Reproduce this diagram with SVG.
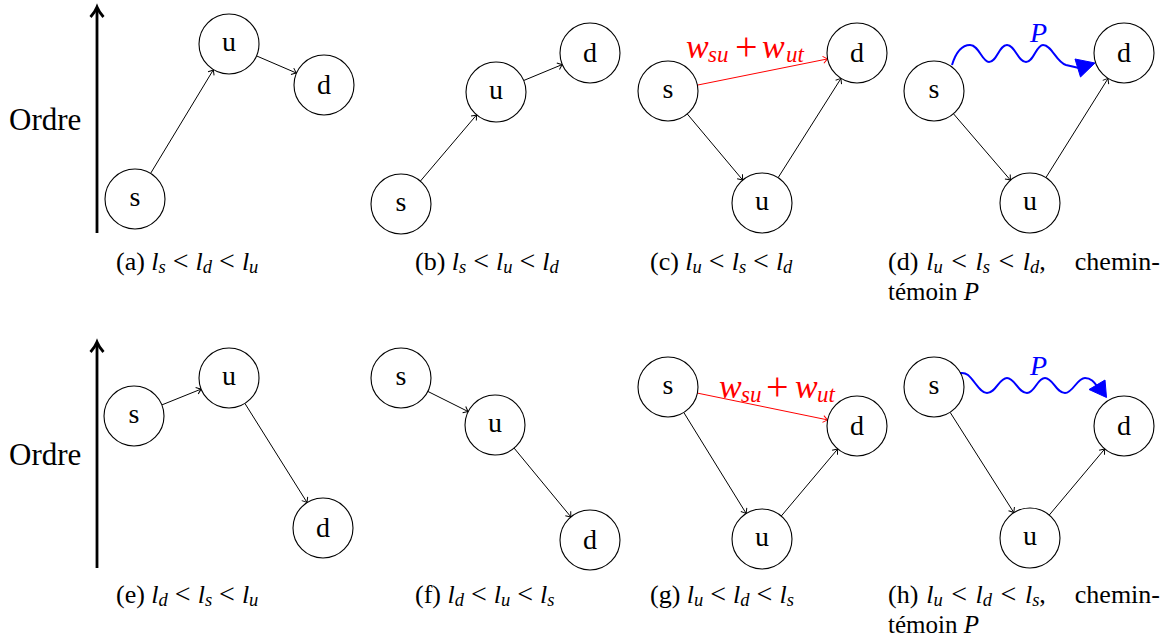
<svg xmlns="http://www.w3.org/2000/svg" width="1167" height="639" viewBox="0 0 1167 639">
<defs>
<style>
text{font-family:"Liberation Serif","Times New Roman",serif;fill:#000}
.node circle{fill:#fff;stroke:#000;stroke-width:1.1}
.lbl{font-size:28px;text-anchor:middle}
.edge{stroke:#000;stroke-width:1;fill:none;marker-end:url(#arr)}
.red{stroke:#f00;marker-end:url(#arrR)}
.wave{stroke:#00f;stroke-width:2;fill:none}
.head{fill:#00f;stroke:#00f;stroke-width:1;stroke-linejoin:miter}
.axis{stroke:#000;stroke-width:2.8;fill:none}
.ordre{font-size:31px}
.cap{font-size:26px}
.cap2{font-size:25px}
.m{font-style:italic}
.sb{font-style:italic;font-size:18.5px}
.lt{font-size:28px}
.rl{font-size:32px;fill:#f00}
.rl .m{font-size:34px}
.pls{font-size:40px}
.rs{font-style:italic;font-size:23px}
.pl{font-size:28px;font-style:italic;fill:#00f}
</style>
<marker id="arr" viewBox="-6 -5 8 10" markerWidth="8" markerHeight="10" refX="0" refY="0" orient="auto" markerUnits="userSpaceOnUse"><path d="M-4.5,-3.5 Q-1.5,-1 0,0 Q-1.5,1 -4.5,3.5" fill="none" stroke="#000" stroke-width="1"/></marker>
<marker id="arrR" viewBox="-6 -5 8 10" markerWidth="8" markerHeight="10" refX="0" refY="0" orient="auto" markerUnits="userSpaceOnUse"><path d="M-4.5,-3.5 Q-1.5,-1 0,0 Q-1.5,1 -4.5,3.5" fill="none" stroke="#f00" stroke-width="1"/></marker>
</defs>

<g id="axis-top">
<path class="axis" d="M97,233 L97,8"/>
<path class="axis" d="M90.5,17 Q95,12 97,7 Q99,12 103.5,17" stroke-width="2.2"/>
<text class="ordre" x="9" y="130">Ordre</text>
</g>
<g id="axis-bottom">
<path class="axis" d="M97,568 L97,343"/>
<path class="axis" d="M90.5,352 Q95,347 97,342 Q99,347 103.5,352" stroke-width="2.2"/>
<text class="ordre" x="9" y="465">Ordre</text>
</g>

<g id="connectors">
<line class="edge" x1="150.6" y1="173.4" x2="213.4" y2="69.7"/>
<line class="edge" x1="256.5" y1="55.9" x2="296.5" y2="73.1"/>
<line class="edge" x1="420.4" y1="181.1" x2="476.6" y2="114.9"/>
<line class="edge" x1="523.7" y1="80.5" x2="562.3" y2="64.5"/>
<line class="edge" x1="687.3" y1="114" x2="742.7" y2="180"/>
<line class="edge" x1="778.1" y1="177.7" x2="841" y2="78.4"/>
<line class="edge red" x1="697.4" y1="85.1" x2="827.6" y2="58.9"/>
<line class="edge" x1="953.5" y1="113.8" x2="1010.5" y2="180.2"/>
<line class="edge" x1="1045.9" y1="177.6" x2="1108.1" y2="78.4"/>
<path class="wave" d="M952,65 C956,52 962,45 970,45 C979,45 982,62 989,62 C997,62 999,45 1007,45 C1015,45 1018,62 1026,62 C1034,62 1036,45 1043,45 C1052,45 1056,62 1066,65 L1079,68"/>
<polygon class="head" points="1075,59 1095,63 1080.5,77"/>
<line class="edge" x1="161.9" y1="404.9" x2="201.1" y2="389.1"/>
<line class="edge" x1="244.9" y1="403.4" x2="307.1" y2="502.6"/>
<line class="edge" x1="427.8" y1="391.4" x2="468.2" y2="411.6"/>
<line class="edge" x1="514.1" y1="448.1" x2="570.9" y2="516.9"/>
<line class="edge" x1="683.8" y1="412.5" x2="746.2" y2="513.5"/>
<line class="edge" x1="781.3" y1="516" x2="837.7" y2="449"/>
<line class="edge red" x1="697.4" y1="393.1" x2="827.6" y2="419.9"/>
<line class="edge" x1="950.1" y1="412.3" x2="1013.9" y2="512.7"/>
<line class="edge" x1="1049.3" y1="515" x2="1104.7" y2="449"/>
<path class="wave" d="M953,377 C958,372 964,372 968,375 C975,381 980,393 987,393 C996,393 999,378 1007,378 C1015,378 1018,393 1027,393 C1035,393 1037,378 1045,378 C1053,378 1056,393 1065,393 C1073,393 1077,378 1085,378 C1091,378 1094,382 1097,386"/>
<polygon class="head" points="1089,389.5 1105,380 1106.5,397.5"/>
</g>

<text class="rl" y="58"><tspan class="m" x="686">w</tspan><tspan class="rs" x="708" y="62">su</tspan><tspan class="pls" x="735" y="60">+</tspan><tspan class="m" x="762" y="58">w</tspan><tspan class="rs" x="786" y="62">ut</tspan></text>
<text class="rl" y="398"><tspan class="m" x="719">w</tspan><tspan class="rs" x="741" y="402">su</tspan><tspan class="pls" x="766" y="400">+</tspan><tspan class="m" x="795" y="398">w</tspan><tspan class="rs" x="817" y="402">ut</tspan></text>
<text class="pl" x="1030" y="42">P</text>
<text class="pl" x="1030" y="375">P</text>

<g id="a-s" class="node"><circle cx="135" cy="199" r="30"/><text class="lbl" x="135" y="206">s</text></g>
<g id="a-u" class="node"><circle cx="229" cy="44" r="30"/><text class="lbl" x="229" y="51">u</text></g>
<g id="a-d" class="node"><circle cx="324" cy="85" r="30"/><text class="lbl" x="324" y="94">d</text></g>
<g id="b-s" class="node"><circle cx="401" cy="204" r="30"/><text class="lbl" x="401" y="211">s</text></g>
<g id="b-u" class="node"><circle cx="496" cy="92" r="30"/><text class="lbl" x="496" y="99">u</text></g>
<g id="b-d" class="node"><circle cx="590" cy="53" r="30"/><text class="lbl" x="590" y="62">d</text></g>
<g id="c-s" class="node"><circle cx="668" cy="91" r="30"/><text class="lbl" x="668" y="98">s</text></g>
<g id="c-d" class="node"><circle cx="857" cy="53" r="30"/><text class="lbl" x="857" y="62">d</text></g>
<g id="c-u" class="node"><circle cx="762" cy="203" r="30"/><text class="lbl" x="762" y="210">u</text></g>
<g id="d-s" class="node"><circle cx="934" cy="91" r="30"/><text class="lbl" x="934" y="98">s</text></g>
<g id="d-d" class="node"><circle cx="1124" cy="53" r="30"/><text class="lbl" x="1124" y="62">d</text></g>
<g id="d-u" class="node"><circle cx="1030" cy="203" r="30"/><text class="lbl" x="1030" y="210">u</text></g>
<g id="e-s" class="node"><circle cx="134" cy="416" r="30"/><text class="lbl" x="134" y="423">s</text></g>
<g id="e-u" class="node"><circle cx="229" cy="378" r="30"/><text class="lbl" x="229" y="385">u</text></g>
<g id="e-d" class="node"><circle cx="323" cy="528" r="30"/><text class="lbl" x="323" y="537">d</text></g>
<g id="f-s" class="node"><circle cx="401" cy="378" r="30"/><text class="lbl" x="401" y="385">s</text></g>
<g id="f-u" class="node"><circle cx="495" cy="425" r="30"/><text class="lbl" x="495" y="432">u</text></g>
<g id="f-d" class="node"><circle cx="590" cy="540" r="30"/><text class="lbl" x="590" y="549">d</text></g>
<g id="g-s" class="node"><circle cx="668" cy="387" r="30"/><text class="lbl" x="668" y="394">s</text></g>
<g id="g-d" class="node"><circle cx="857" cy="426" r="30"/><text class="lbl" x="857" y="435">d</text></g>
<g id="g-u" class="node"><circle cx="762" cy="539" r="30"/><text class="lbl" x="762" y="546">u</text></g>
<g id="h-s" class="node"><circle cx="934" cy="387" r="30"/><text class="lbl" x="934" y="394">s</text></g>
<g id="h-d" class="node"><circle cx="1124" cy="426" r="30"/><text class="lbl" x="1124" y="435">d</text></g>
<g id="h-u" class="node"><circle cx="1030" cy="538" r="30"/><text class="lbl" x="1030" y="545">u</text></g>

<g id="captions">
<text class="cap" x="116" y="270">(a) <tspan class="m">l</tspan><tspan class="sb" dy="3">s</tspan><tspan class="lt" dy="-3"> &lt; </tspan><tspan class="m">l</tspan><tspan class="sb" dy="3">d</tspan><tspan class="lt" dy="-3"> &lt; </tspan><tspan class="m">l</tspan><tspan class="sb" dy="3">u</tspan></text>
<text class="cap" x="415" y="270">(b) <tspan class="m">l</tspan><tspan class="sb" dy="3">s</tspan><tspan class="lt" dy="-3"> &lt; </tspan><tspan class="m">l</tspan><tspan class="sb" dy="3">u</tspan><tspan class="lt" dy="-3"> &lt; </tspan><tspan class="m">l</tspan><tspan class="sb" dy="3">d</tspan></text>
<text class="cap" x="650" y="270">(c) <tspan class="m">l</tspan><tspan class="sb" dy="3">u</tspan><tspan class="lt" dy="-3"> &lt; </tspan><tspan class="m">l</tspan><tspan class="sb" dy="3">s</tspan><tspan class="lt" dy="-3"> &lt; </tspan><tspan class="m">l</tspan><tspan class="sb" dy="3">d</tspan></text>
<text class="cap" x="888" y="270" word-spacing="1.5">(d) <tspan class="m">l</tspan><tspan class="sb" dy="3">u</tspan><tspan class="lt" dy="-3"> &lt; </tspan><tspan class="m">l</tspan><tspan class="sb" dy="3">s</tspan><tspan class="lt" dy="-3"> &lt; </tspan><tspan class="m">l</tspan><tspan class="sb" dy="3">d</tspan><tspan dy="-3">,</tspan></text>
<text class="cap" x="1160" y="270" text-anchor="end">chemin-</text>
<text class="cap2" x="888" y="300">témoin <tspan class="m">P</tspan></text>

<text class="cap" x="116" y="603">(e) <tspan class="m">l</tspan><tspan class="sb" dy="3">d</tspan><tspan class="lt" dy="-3"> &lt; </tspan><tspan class="m">l</tspan><tspan class="sb" dy="3">s</tspan><tspan class="lt" dy="-3"> &lt; </tspan><tspan class="m">l</tspan><tspan class="sb" dy="3">u</tspan></text>
<text class="cap" x="415" y="603">(f) <tspan class="m">l</tspan><tspan class="sb" dy="3">d</tspan><tspan class="lt" dy="-3"> &lt; </tspan><tspan class="m">l</tspan><tspan class="sb" dy="3">u</tspan><tspan class="lt" dy="-3"> &lt; </tspan><tspan class="m">l</tspan><tspan class="sb" dy="3">s</tspan></text>
<text class="cap" x="650" y="603">(g) <tspan class="m">l</tspan><tspan class="sb" dy="3">u</tspan><tspan class="lt" dy="-3"> &lt; </tspan><tspan class="m">l</tspan><tspan class="sb" dy="3">d</tspan><tspan class="lt" dy="-3"> &lt; </tspan><tspan class="m">l</tspan><tspan class="sb" dy="3">s</tspan></text>
<text class="cap" x="888" y="603" word-spacing="1.5">(h) <tspan class="m">l</tspan><tspan class="sb" dy="3">u</tspan><tspan class="lt" dy="-3"> &lt; </tspan><tspan class="m">l</tspan><tspan class="sb" dy="3">d</tspan><tspan class="lt" dy="-3"> &lt; </tspan><tspan class="m">l</tspan><tspan class="sb" dy="3">s</tspan><tspan dy="-3">,</tspan></text>
<text class="cap" x="1160" y="603" text-anchor="end">chemin-</text>
<text class="cap2" x="888" y="633">témoin <tspan class="m">P</tspan></text>
</g>
</svg>
